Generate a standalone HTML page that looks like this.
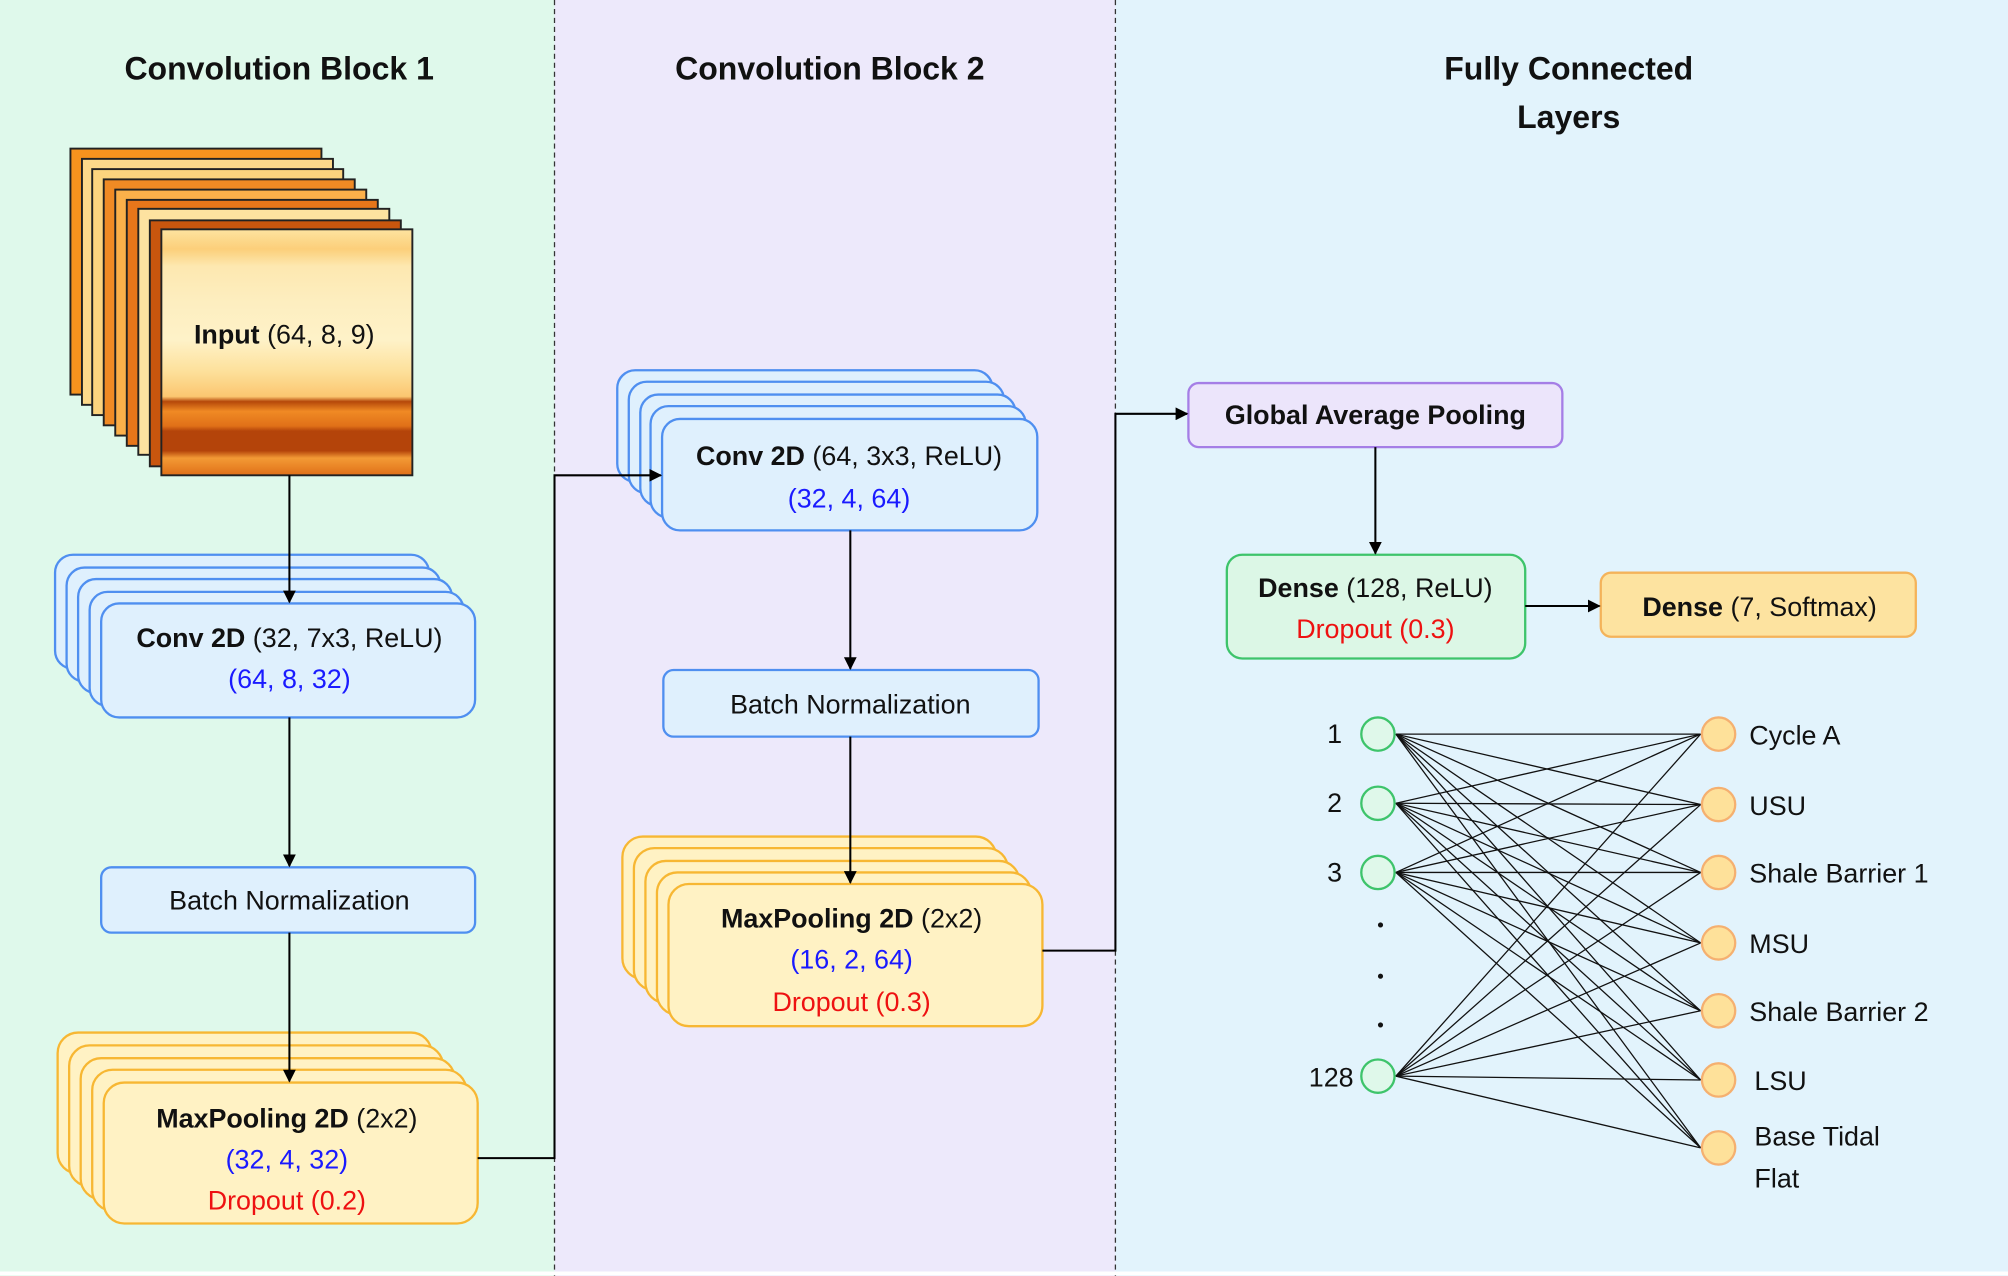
<!DOCTYPE html>
<html><head><meta charset="utf-8"><style>
html,body{margin:0;padding:0;background:#fff}
svg{display:block}
text{font-family:"Liberation Sans",sans-serif;font-size:21px;fill:#111}
.t{font-size:25px;font-weight:bold}
.b{font-weight:bold}
.bl{fill:#1a1aff}.rd{fill:#ee1111}
</style></head><body>
<svg width="2008" height="1276" viewBox="0 0 1568 996" preserveAspectRatio="none" xmlns="http://www.w3.org/2000/svg">
<defs>
<marker id="ar" markerWidth="10" markerHeight="10" refX="9" refY="5" orient="auto" markerUnits="userSpaceOnUse"><path d="M0,0 L10,5 L0,10 z" fill="#000"/></marker>
<linearGradient id="gin" x1="0" y1="0" x2="0" y2="1">
<stop offset="0" stop-color="#fde3a0"/><stop offset="0.08" stop-color="#fccf7a"/><stop offset="0.15" stop-color="#fde8b0"/><stop offset="0.3" stop-color="#fdeec0"/><stop offset="0.45" stop-color="#fef2c8"/><stop offset="0.58" stop-color="#fde09a"/><stop offset="0.68" stop-color="#fbc670"/><stop offset="0.7" stop-color="#b5480a"/><stop offset="0.74" stop-color="#f08a24"/><stop offset="0.8" stop-color="#e07018"/><stop offset="0.82" stop-color="#b4440a"/><stop offset="0.9" stop-color="#b4440a"/><stop offset="0.93" stop-color="#f39a35"/><stop offset="1" stop-color="#e07018"/>
</linearGradient>
</defs>
<rect x="0" y="0" width="433" height="996" fill="#dff9eb"/>
<rect x="433" y="0" width="438" height="996" fill="#ede9fb"/>
<rect x="871" y="0" width="697" height="996" fill="#e2f3fc"/>
<line x1="433" y1="0" x2="433" y2="996" stroke="#333" stroke-dasharray="4,3"/>
<line x1="871" y1="0" x2="871" y2="996" stroke="#333" stroke-dasharray="4,3"/>
<line x1="0" y1="994" x2="1568" y2="994" stroke="#fff" stroke-width="3"/>

<text class="t" x="218" y="62" text-anchor="middle">Convolution Block 1</text>
<text class="t" x="648" y="62" text-anchor="middle">Convolution Block 2</text>
<text class="t" x="1225" y="62" text-anchor="middle">Fully Connected</text>
<text class="t" x="1225" y="100" text-anchor="middle">Layers</text>

<!-- input stack -->
<g stroke="#222" stroke-width="1.5">
<rect x="55" y="116" width="196" height="192" fill="#f7931e"/>
<rect x="64" y="124" width="196" height="192" fill="#fdd98a"/>
<rect x="72" y="132" width="196" height="192" fill="#fcd47e"/>
<rect x="81" y="140" width="196" height="192" fill="#f08a24"/>
<rect x="90" y="148" width="196" height="192" fill="#fbb04a"/>
<rect x="99" y="156" width="196" height="192" fill="#e8761a"/>
<rect x="108" y="163" width="196" height="192" fill="#fde2a0"/>
<rect x="117" y="172" width="196" height="192" fill="#c9560e"/>
<rect x="126" y="179" width="196" height="192" fill="url(#gin)"/>
</g>
<text x="222" y="268" text-anchor="middle"><tspan class="b">Input</tspan> (64, 8, 9)</text>

<!-- block1 conv -->
<g fill="#dff0fd" stroke="#4f8ff0" stroke-width="1.8">
<rect x="43" y="433" width="292" height="89" rx="14"/>
<rect x="52" y="443" width="292" height="89" rx="14"/>
<rect x="61" y="452" width="292" height="89" rx="14"/>
<rect x="70" y="462" width="292" height="89" rx="14"/>
<rect x="79" y="471" width="292" height="89" rx="14"/>
</g>
<text x="226" y="505" text-anchor="middle"><tspan class="b">Conv 2D</tspan> (32, 7x3, ReLU)</text>
<text class="bl" x="226" y="537" text-anchor="middle">(64, 8, 32)</text>

<rect x="79" y="677" width="292" height="51" rx="8" fill="#dff0fd" stroke="#4f8ff0" stroke-width="1.8"/>
<text x="226" y="710" text-anchor="middle">Batch Normalization</text>

<g fill="#fff2c4" stroke="#f7b733" stroke-width="1.8">
<rect x="45" y="806" width="292" height="110" rx="16"/>
<rect x="54" y="816" width="292" height="110" rx="16"/>
<rect x="63" y="826" width="292" height="110" rx="16"/>
<rect x="72" y="835" width="292" height="110" rx="16"/>
<rect x="81" y="845" width="292" height="110" rx="16"/>
</g>
<text x="224" y="880" text-anchor="middle"><tspan class="b">MaxPooling 2D</tspan> (2x2)</text>
<text class="bl" x="224" y="912" text-anchor="middle">(32, 4, 32)</text>
<text class="rd" x="224" y="944" text-anchor="middle">Dropout (0.2)</text>

<!-- block2 -->
<g fill="#dff0fd" stroke="#4f8ff0" stroke-width="1.8">
<rect x="482" y="289" width="293" height="87" rx="14"/>
<rect x="491" y="298" width="293" height="87" rx="14"/>
<rect x="500" y="308" width="293" height="87" rx="14"/>
<rect x="508" y="317" width="293" height="87" rx="14"/>
<rect x="517" y="327" width="293" height="87" rx="14"/>
</g>
<text x="663" y="363" text-anchor="middle"><tspan class="b">Conv 2D</tspan> (64, 3x3, ReLU)</text>
<text class="bl" x="663" y="396" text-anchor="middle">(32, 4, 64)</text>

<rect x="518" y="523" width="293" height="52" rx="8" fill="#dff0fd" stroke="#4f8ff0" stroke-width="1.8"/>
<text x="664" y="557" text-anchor="middle">Batch Normalization</text>

<g fill="#fff2c4" stroke="#f7b733" stroke-width="1.8">
<rect x="486" y="653" width="292" height="111" rx="16"/>
<rect x="495" y="662" width="292" height="111" rx="16"/>
<rect x="504" y="672" width="292" height="111" rx="16"/>
<rect x="513" y="681" width="292" height="111" rx="16"/>
<rect x="522" y="690" width="292" height="111" rx="16"/>
</g>
<text x="665" y="724" text-anchor="middle"><tspan class="b">MaxPooling 2D</tspan> (2x2)</text>
<text class="bl" x="665" y="756" text-anchor="middle">(16, 2, 64)</text>
<text class="rd" x="665" y="789" text-anchor="middle">Dropout (0.3)</text>

<!-- FC -->
<rect x="928" y="299" width="292" height="50" rx="8" fill="#ece5fb" stroke="#a57ee6" stroke-width="1.8"/>
<text x="1074" y="331" text-anchor="middle" class="b">Global Average Pooling</text>
<rect x="958" y="433" width="233" height="81" rx="12" fill="#dcf7e6" stroke="#3ec46b" stroke-width="1.8"/>
<text x="1074" y="466" text-anchor="middle"><tspan class="b">Dense</tspan> (128, ReLU)</text>
<text class="rd" x="1074" y="498" text-anchor="middle">Dropout (0.3)</text>
<rect x="1250" y="447" width="246" height="50" rx="8" fill="#fde3a0" stroke="#f4b35a" stroke-width="1.8"/>
<text x="1374" y="481" text-anchor="middle"><tspan class="b">Dense</tspan> (7, Softmax)</text>

<!-- connectors -->
<g stroke="#000" stroke-width="1.6" fill="none">
<line x1="226" y1="371" x2="226" y2="470" marker-end="url(#ar)"/>
<line x1="226" y1="560" x2="226" y2="676" marker-end="url(#ar)"/>
<line x1="226" y1="728" x2="226" y2="844" marker-end="url(#ar)"/>
<polyline points="373,904 433,904 433,371 516,371" marker-end="url(#ar)"/>
<line x1="664" y1="414" x2="664" y2="522" marker-end="url(#ar)"/>
<line x1="664" y1="575" x2="664" y2="689" marker-end="url(#ar)"/>
<polyline points="814,742 871,742 871,323 927,323" marker-end="url(#ar)"/>
<line x1="1074" y1="349" x2="1074" y2="432" marker-end="url(#ar)"/>
<line x1="1191" y1="473" x2="1249" y2="473" marker-end="url(#ar)"/>
</g>

<!-- network -->
<g stroke="#111" stroke-width="1">
<line x1="1090" y1="573" x2="1328" y2="573"/><line x1="1090" y1="573" x2="1328" y2="628"/><line x1="1090" y1="573" x2="1328" y2="681"/><line x1="1090" y1="573" x2="1328" y2="736"/><line x1="1090" y1="573" x2="1328" y2="789"/><line x1="1090" y1="573" x2="1328" y2="843"/><line x1="1090" y1="573" x2="1328" y2="896"/>
<line x1="1090" y1="627" x2="1328" y2="573"/><line x1="1090" y1="627" x2="1328" y2="628"/><line x1="1090" y1="627" x2="1328" y2="681"/><line x1="1090" y1="627" x2="1328" y2="736"/><line x1="1090" y1="627" x2="1328" y2="789"/><line x1="1090" y1="627" x2="1328" y2="843"/><line x1="1090" y1="627" x2="1328" y2="896"/>
<line x1="1090" y1="681" x2="1328" y2="573"/><line x1="1090" y1="681" x2="1328" y2="628"/><line x1="1090" y1="681" x2="1328" y2="681"/><line x1="1090" y1="681" x2="1328" y2="736"/><line x1="1090" y1="681" x2="1328" y2="789"/><line x1="1090" y1="681" x2="1328" y2="843"/><line x1="1090" y1="681" x2="1328" y2="896"/>
<line x1="1090" y1="840" x2="1328" y2="573"/><line x1="1090" y1="840" x2="1328" y2="628"/><line x1="1090" y1="840" x2="1328" y2="681"/><line x1="1090" y1="840" x2="1328" y2="736"/><line x1="1090" y1="840" x2="1328" y2="789"/><line x1="1090" y1="840" x2="1328" y2="843"/><line x1="1090" y1="840" x2="1328" y2="896"/>
</g>
<g fill="#dff8ea" stroke="#3ec46b" stroke-width="1.8">
<ellipse cx="1076" cy="573" rx="13" ry="13"/><ellipse cx="1076" cy="627" rx="13" ry="13"/><ellipse cx="1076" cy="681" rx="13" ry="13"/><ellipse cx="1076" cy="840" rx="13" ry="13"/>
</g>
<g fill="#fee19a" stroke="#f5b070" stroke-width="1.8">
<circle cx="1342" cy="573" r="13"/><circle cx="1342" cy="628" r="13"/><circle cx="1342" cy="681" r="13"/><circle cx="1342" cy="736" r="13"/><circle cx="1342" cy="789" r="13"/><circle cx="1342" cy="843" r="13"/><circle cx="1342" cy="896" r="13"/>
</g>
<g fill="#111"><circle cx="1078" cy="722" r="2"/><circle cx="1078" cy="762" r="2"/><circle cx="1078" cy="800" r="2"/></g>
<text x="1048" y="580" text-anchor="end">1</text>
<text x="1048" y="634" text-anchor="end">2</text>
<text x="1048" y="688" text-anchor="end">3</text>
<text x="1057" y="848" text-anchor="end">128</text>
<text x="1366" y="581">Cycle A</text>
<text x="1366" y="636">USU</text>
<text x="1366" y="689">Shale Barrier 1</text>
<text x="1366" y="744">MSU</text>
<text x="1366" y="797">Shale Barrier 2</text>
<text x="1370" y="851">LSU</text>
<text x="1370" y="894">Base Tidal</text>
<text x="1370" y="927">Flat</text>
</svg>
</body></html>
